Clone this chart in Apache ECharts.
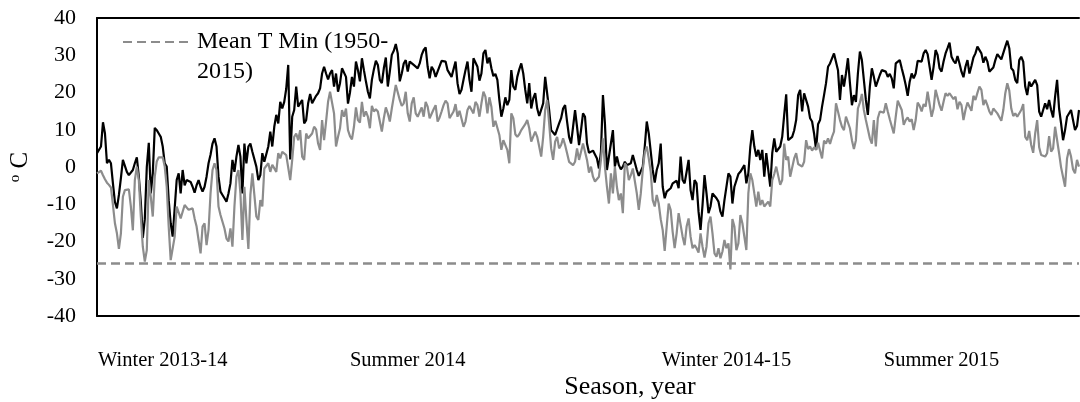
<!DOCTYPE html>
<html>
<head>
<meta charset="utf-8">
<script src="https://cdn.jsdelivr.net/npm/echarts@6/dist/echarts.min.js"></script>
<style>
  html, body { margin: 0; padding: 0; background: #fff; }
  #chart { width: 1080px; height: 402px; }
</style>
</head>
<body>
<div id="chart"></div>
<script>
// Daily maximum air temperature (°C), Nov 2013 – Oct 2015
const tMax = [
  3.7,4.1,5.5,12.0,9.0,1.0,1.9,1.0,-4.4,-9.4,-11.1,-7.5,-3.0,1.9,1.9,-1.3,-2.2,-2.4,-0.8,1.0,2.6,-2.6,-9.4,-19.0,-14.0,0.0,6.5,-7.1,-1.7,10.5,9.9,9.0,8.1,5.5,1.0,0.1,-8.9,-15.1,-18.7,-11.1,-3.5,-1.7,-7.1,-0.8,-4.9,-3.5,-3.0,-4.0,-5.3,-6.9,-4.9,-3.5,-5.3,-6.6,-5.3,-2.6,1.0,3.3,6.3,7.7,5.5,
  -2.6,-6.6,-7.5,-8.4,-9.3,-7.1,-4.4,1.9,-1.3,2.8,5.9,2.8,-7.1,6.3,1.0,5.5,6.3,4.1,4.4,0.1,-3.5,-2.2,3.7,1.4,1.9,5.5,9.5,5.5,10.8,14.0,11.7,17.5,15.7,17.5,21.0,27.4,2.0,13.5,15.3,21.6,16.2,17.1,18.0,11.7,12.6,17.1,19.6,17.1,17.5,19.1,19.8,21.1,25.1,26.9,25.1,23.5,25.1,26.0,21.6,25.1,20.2,22.5,26.5,
  26.0,24.2,17.0,20.0,24.2,21.6,28.3,26.0,23.0,29.2,26.0,23.0,20.2,18.4,23.4,26.2,28.5,27.4,23.4,22.5,26.5,29.4,21.6,25.6,30.1,31.2,33.0,30.5,23.0,25.1,27.8,28.7,25.6,28.3,27.8,27.4,27.6,26.5,27.8,30.1,31.4,32.1,26.9,23.8,26.9,26.0,24.2,23.8,27.1,28.5,28.7,28.3,26.0,26.0,24.2,24.7,28.3,22.5,19.6,20.7,23.4,26.0,28.3,
  23.4,20.2,29.2,29.6,26.9,23.2,25.1,30.5,31.4,27.8,29.4,26.5,24.4,25.0,23.4,18.0,13.5,15.7,18.7,16.6,18.0,26.0,21.6,20.7,24.2,26.2,27.8,25.1,20.7,17.1,22.5,15.7,18.4,19.8,15.7,13.7,13.5,17.1,24.2,24.7,15.3,9.9,9.9,8.6,8.8,11.7,13.1,15.7,16.6,12.2,8.1,6.3,10.8,15.3,10.8,5.9,9.9,14.4,13.5,6.3,3.8,3.8,4.4,
  3.9,2.3,-0.4,4.1,19.3,11.7,-0.8,-0.8,6.3,9.9,0.1,2.8,0.5,-0.6,0.1,1.4,0.5,0.1,1.0,3.2,3.2,-0.8,-2.4,-2.6,0.1,5.5,12.2,9.0,8.6,-0.8,-4.2,-0.8,1.0,6.3,-5.3,-8.4,-6.6,-6.6,-5.7,-4.4,-4.8,-3.7,-5.7,2.8,-3.5,-4.4,-1.3,1.9,-6.2,-8.9,-3.5,-4.4,-12.0,-16.9,-10.2,-2.2,-7.1,-12.4,-10.6,-7.1,-7.1,-8.4,
  -9.3,-12.0,-13.3,-8.9,-8.9,-1.7,-2.6,-9.8,-5.3,-5.3,-1.9,-1.3,-1.5,0.5,-4.4,-1.7,5.5,9.9,5.5,2.8,4.6,1.9,4.6,-2.6,3.7,3.7,-5.3,3.7,7.7,4.1,4.6,5.5,8.1,14.0,19.5,7.2,7.2,8.1,9.8,12.6,19.3,20.7,14.9,19.8,19.8,16.2,13.1,12.2,9.0,4.6,11.5,12.6,16.2,19.3,22.5,26.9,27.8,27.8,30.5,30.5,26.0,18.0,24.7,
  21.6,25.1,29.2,22.5,16.6,19.3,17.5,25.1,31.0,28.7,28.3,18.0,14.0,21.6,26.5,24.2,21.6,21.6,24.7,26.0,26.5,25.6,24.2,25.0,23.8,21.1,27.8,27.4,28.7,26.5,24.4,22.0,19.1,22.9,25.1,23.8,25.1,28.5,28.3,28.3,30.5,31.4,30.3,26.9,23.4,26.9,31.4,30.1,26.5,25.6,28.3,30.5,31.9,33.4,29.6,28.5,27.8,29.8,27.8,
  25.6,24.1,26.9,28.7,25.1,27.1,29.4,30.5,32.3,32.7,30.5,28.0,29.6,28.3,25.6,25.3,26.7,28.7,30.3,30.1,28.9,29.2,32.3,33.9,31.9,26.5,25.9,23.4,22.5,28.7,29.6,28.3,21.6,19.3,22.9,21.6,21.1,23.4,22.0,14.9,13.5,13.1,17.1,15.5,18.0,15.3,13.3,18.9,23.4,15.7,11.7,7.2,9.9,13.5,13.5,15.3,15.7,9.9,11.0,15.3
];

// Daily minimum air temperature (°C), same days
const tMin = [
  -1.7,-1.3,-1.0,-2.2,-3.3,-4.2,-4.8,-5.5,-10.2,-15.1,-17.8,-22.0,-17.8,-8.0,-6.2,-5.7,-6.0,-10.6,-17.0,-3.5,0.1,-3.5,-13.3,-21.4,-25.4,-22.3,-3.5,-8.0,-13.3,-2.6,1.5,2.6,3.0,2.6,0.1,-5.3,-16.0,-25.0,-24.5,-18.7,-10.6,-10.6,-13.8,-12.0,-10.2,-10.6,-11.5,-11.1,-11.1,-13.8,-16.0,-19.6,-23.2,-16.0,-15.1,-21.0,-16.9,-7.1,-0.8,1.0,-0.8,
  -10.6,-12.9,-14.7,-16.5,-19.2,-20.0,-16.5,-21.4,-10.6,-2.6,-0.8,-7.1,-19.6,-5.3,-14.2,-22.0,-7.5,-1.7,-7.5,-13.3,-14.2,-8.9,-10.6,-0.4,-0.6,1.0,-1.3,0.6,1.0,-1.3,3.7,2.3,4.1,4.6,3.2,2.8,-3.5,1.9,8.1,9.0,7.2,9.9,2.8,1.9,9.0,7.7,7.7,9.0,10.8,10.1,6.3,4.6,12.6,7.2,12.2,17.5,20.2,19.8,14.4,5.5,8.1,10.4,15.3,
  13.5,15.7,9.9,8.3,7.4,10.8,16.0,12.6,11.9,17.5,13.5,14.9,13.5,10.4,16.4,14.9,15.5,14.9,12.2,9.5,13.1,16.0,14.4,12.2,15.7,18.9,22.0,21.6,18.0,16.4,17.1,20.2,14.4,12.2,17.1,18.7,14.4,13.5,14.0,16.0,13.5,17.5,16.2,13.1,13.5,15.5,16.6,12.2,13.3,14.9,16.6,17.8,17.1,13.1,13.3,14.9,16.9,13.5,15.1,14.6,10.8,12.2,15.3,
  16.4,16.6,14.4,17.5,16.6,13.5,17.1,20.2,18.9,14.4,18.7,16.2,10.8,12.4,12.6,8.6,4.6,7.2,7.7,4.6,1.0,14.4,13.1,8.8,8.1,8.8,9.9,9.5,11.5,12.6,10.4,6.8,7.2,9.5,8.1,5.5,2.8,8.1,15.3,18.0,11.7,5.0,1.9,6.8,8.1,5.0,5.9,7.7,5.9,3.7,1.4,1.0,0.5,1.4,5.0,1.9,1.9,6.3,5.9,1.9,-1.5,0.1,-2.6,
  -3.9,-3.7,-2.6,1.9,7.7,0.1,-5.3,-9.8,-1.7,-7.1,0.1,-5.3,-8.9,-7.1,-12.4,1.0,0.2,-3.5,-2.2,-0.4,0.1,-7.1,-11.5,-7.1,-0.8,3.9,5.5,2.3,-1.3,-8.9,-10.6,-7.5,-9.8,-14.0,-16.9,-22.5,-16.0,-9.8,-11.5,-17.4,-21.8,-17.8,-12.4,-12.9,-18.7,-21.0,-16.0,-13.8,-18.7,-21.8,-21.0,-21.8,-23.0,-17.8,-21.4,-24.3,-21.4,-15.1,-13.3,-17.8,-23.2,-24.1,
  -21.8,-24.5,-22.7,-19.6,-21.8,-20.5,-27.5,-14.0,-16.0,-22.3,-20.5,-12.9,-15.1,-15.1,-22.3,-7.1,-1.7,-3.5,-7.1,-10.6,-6.6,-10.2,-8.9,-10.6,-10.6,-9.3,-10.6,-3.5,-1.9,0.1,0.1,-4.8,-3.5,6.3,1.9,2.8,-2.6,-2.6,2.3,3.7,0.8,1.0,0.1,1.4,7.2,4.8,5.5,4.4,5.3,4.6,6.5,6.8,2.3,7.1,6.3,7.7,6.2,8.1,9.5,17.1,14.9,12.6,10.8,
  9.9,13.5,14.0,10.4,7.2,4.8,7.2,15.7,17.3,19.6,15.3,12.6,12.5,7.7,6.3,12.6,5.5,13.1,14.9,14.9,14.6,17.1,14.9,12.8,12.6,9.0,13.5,17.8,17.5,15.3,11.3,12.6,13.3,12.2,12.8,9.9,12.6,17.3,16.4,14.9,16.9,16.2,20.2,20.2,13.5,15.7,20.7,18.7,16.6,15.1,17.5,19.8,19.1,19.8,19.3,18.2,18.9,15.5,17.5,
  16.6,12.6,15.3,17.3,17.3,15.1,19.1,18.0,19.9,21.6,20.7,16.6,18.0,16.6,14.9,14.0,15.7,15.3,14.4,14.6,12.4,15.3,19.8,22.5,20.5,15.7,13.7,14.4,13.5,13.9,15.3,16.9,8.1,7.2,9.7,5.9,3.8,9.0,12.6,5.3,3.2,3.5,2.8,3.7,8.3,4.1,5.0,10.8,11.0,3.7,-0.1,-0.1,-5.3,2.3,4.8,2.8,-0.6,-1.7,1.9,0.1
];

// Long-term mean of the minimum temperature
const meanTMinName = 'Mean T Min (1950-2015)';
const meanTMin = -25.9;

// Season labels placed under the day they refer to
const seasonTicks = [
  { day: 33,  label: 'Winter 2013-14' },
  { day: 156, label: 'Summer 2014' },
  { day: 316, label: 'Winter 2014-15' },
  { day: 424, label: 'Summer 2015' }
];

const yRange = { min: -40, max: 40, step: 10 };

const dayIndex = tMax.map((_, i) => String(i));
const seasonByDay = new Map(seasonTicks.map(t => [t.day, t.label]));

const serif = '"Liberation Serif", "Times New Roman", serif';
const grey = '#8c8c8c';

const chart = echarts.init(document.getElementById('chart'), null, { renderer: 'canvas' });

chart.setOption({
  animation: false,
  backgroundColor: '#fff',
  grid: { left: 93, right: 1, top: 18, bottom: 86, containLabel: false },
  legend: {
    left: 122,
    top: -3,
    padding: 0,
    itemWidth: 69,
    itemHeight: 14,
    data: [meanTMinName],
    // blank first line keeps the first text line level with the key line
    formatter: () => '\nMean T Min (1950-\n2015)',
    selectedMode: false,
    itemStyle: { opacity: 0, borderWidth: 0 },
    textStyle: {
      fontFamily: serif,
      fontSize: 24,
      color: '#000',
      lineHeight: 30
    }
  },
  xAxis: [
    {
      type: 'category',
      data: dayIndex,
      boundaryGap: false,
      axisLine: { onZero: false, lineStyle: { color: '#000', width: 2 } },
      axisTick: { show: false },
      splitLine: { show: false },
      axisLabel: {
        interval: (idx) => seasonByDay.has(idx),
        formatter: (val, idx) => seasonByDay.get(idx) || '',
        margin: 34,
        fontFamily: serif,
        fontSize: 20.5,
        color: '#000'
      }
    },
    {
      type: 'category',
      position: 'top',
      data: dayIndex,
      boundaryGap: false,
      axisLine: { onZero: false, lineStyle: { color: '#000', width: 2 } },
      axisTick: { show: false },
      axisLabel: { show: false },
      splitLine: { show: false }
    }
  ],
  yAxis: {
    type: 'value',
    min: yRange.min,
    max: yRange.max,
    interval: yRange.step,
    axisLine: { show: true, lineStyle: { color: '#000', width: 2 } },
    axisTick: { show: false },
    splitLine: { show: false },
    axisLabel: { fontFamily: serif, fontSize: 22, color: '#000', margin: 21 },
    name: '{sup|o} C',
    nameLocation: 'middle',
    nameRotate: 90,
    nameGap: 64,
    nameTextStyle: {
      fontFamily: serif,
      fontSize: 25,
      color: '#000',
      rich: {
        sup: { fontFamily: serif, fontSize: 15, color: '#000', verticalAlign: 'top', padding: [0, 0, 10, 0] }
      }
    }
  },
  graphic: [
    {
      type: 'text',
      x: 630,
      y: 387,
      silent: true,
      style: {
        text: 'Season, year',
        fontFamily: serif,
        fontSize: 26,
        fill: '#000',
        align: 'center',
        verticalAlign: 'middle'
      }
    }
  ],
  series: [
    {
      name: 'T Max',
      type: 'line',
      data: tMax,
      symbol: 'none',
      showSymbol: false,
      smooth: false,
      color: '#000',
      lineStyle: { color: '#000', width: 2.2 },
      z: 2
    },
    {
      name: 'T Min',
      type: 'line',
      data: tMin,
      symbol: 'none',
      showSymbol: false,
      smooth: false,
      color: grey,
      lineStyle: { color: grey, width: 2.2 },
      z: 3
    },
    {
      name: meanTMinName,
      type: 'line',
      data: [],
      symbol: 'none',
      color: grey,
      lineStyle: { color: grey, width: 2.5, type: [9, 5] },
      markLine: {
        silent: true,
        symbol: 'none',
        label: { show: false },
        lineStyle: { color: grey, width: 2.5, type: [9, 5] },
        data: [{ yAxis: meanTMin }]
      },
      z: 4
    }
  ]
});
</script>
</body>
</html>
